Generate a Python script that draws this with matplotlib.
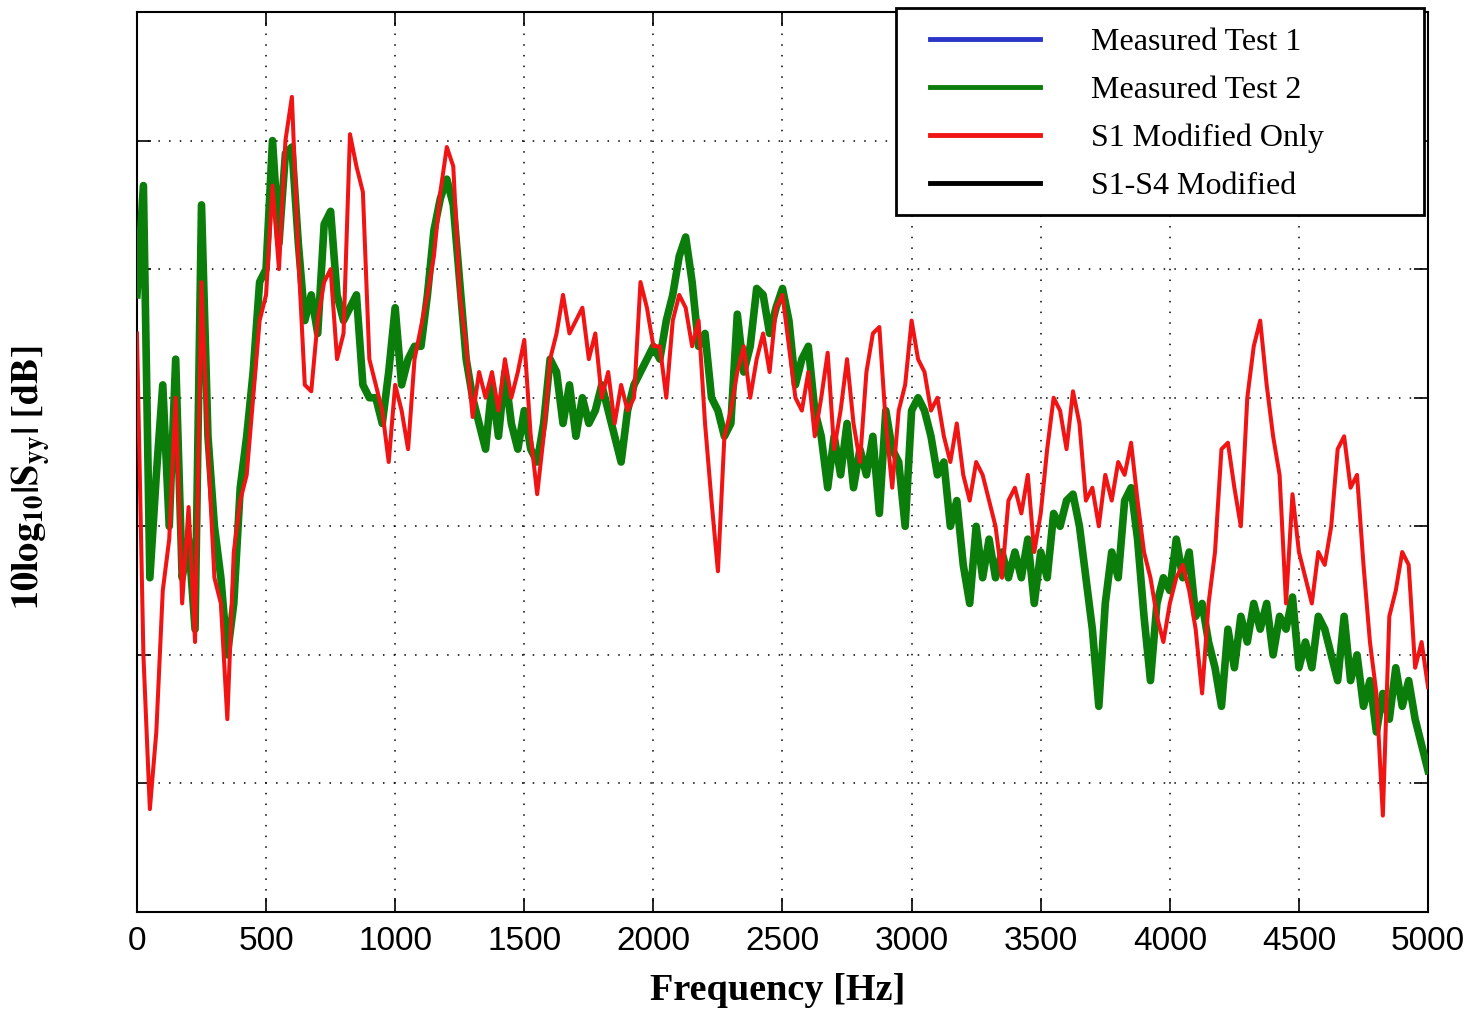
import numpy as np
import matplotlib
matplotlib.use("Agg")
import matplotlib.pyplot as plt
from matplotlib.lines import Line2D
from matplotlib.patches import Rectangle

# Frequency grid [Hz], one sample every 25 Hz
freq = np.arange(0, 5001, 25)

# Measured Test 2 spectrum [dB]
test2_db = [
    -22, -13.5, -44, -36, -29, -40, -27, -44,
    -41, -48, -15, -33, -40, -44, -50, -46,
    -37, -33, -28, -21, -20, -10, -18, -11,
    -10.5, -18, -24, -22, -25, -16.5, -15.5, -22,
    -24, -23, -22, -29, -30, -30, -32, -28,
    -23, -29, -27, -26, -26, -22, -17, -14.5,
    -13, -15, -21, -27, -30, -32, -34, -29,
    -33, -28, -32, -34, -31, -34, -35, -32,
    -27, -28, -32, -29, -33, -30, -32, -31,
    -29, -31, -33, -35, -31, -29, -28, -27,
    -26, -27, -24, -22, -19, -17.5, -21, -26,
    -25, -30, -31, -33, -32, -23.5, -28, -26,
    -21.5, -22, -25, -23, -21.5, -24, -29, -27,
    -26, -31, -33, -37, -33, -36, -32, -37,
    -34, -36, -33, -39, -31, -34, -35, -40,
    -31, -30, -31, -33, -36, -35, -40, -38,
    -43, -46, -40, -44, -41, -44, -42, -44,
    -42, -44, -41, -46, -42, -44, -39, -40,
    -38, -37.5, -40, -44, -48, -54, -46, -42,
    -44, -38, -37, -41, -47, -52, -46, -44,
    -45, -41, -44, -42, -47, -46, -49, -51,
    -54, -48, -51, -47, -49, -46, -48, -46,
    -50, -47, -48, -45.5, -51, -49, -51, -47,
    -48, -50, -52, -47, -52, -50, -54, -52,
    -56, -53, -55, -51, -54, -52, -55, -57,
    -59,
]

# S1 modified only model [dB]
s1_db = [
    -25, -50, -62, -56, -45, -41, -30, -46,
    -38.5, -49, -21, -34, -44, -46, -55, -42,
    -38, -36, -30, -24, -22, -13.5, -20, -10,
    -6.6, -19, -29, -29.5, -24, -21, -20, -27,
    -25, -9.5, -12, -14, -27, -29, -31, -35,
    -29, -31, -34, -27, -24.5, -22, -19, -14,
    -10.5, -12, -22, -26, -31.5, -28, -30, -28,
    -31, -27, -30, -28, -25.5, -33, -37.5, -33,
    -27, -25, -22, -25, -24, -23, -27, -25,
    -30, -28, -32, -29, -31, -30, -21, -23,
    -26, -26, -30, -24, -22, -23, -26, -24,
    -32, -38, -43.5, -33, -31, -28, -26, -30,
    -27, -25, -28, -23, -22, -26, -30, -31,
    -28, -33, -30, -26.5, -34, -31, -27, -32,
    -35, -28, -25, -24.5, -32, -37, -31, -29,
    -24, -27, -28, -31, -30, -33, -35, -32,
    -36, -38, -35, -36, -38, -40, -44, -38,
    -37, -39, -36, -42, -39, -34, -30, -31,
    -34, -29.5, -32, -38, -37, -40, -36, -38,
    -35, -36, -33.5, -38, -42, -44, -47, -49,
    -46, -44, -43, -45, -48, -53, -46, -42,
    -34, -33.5, -37, -40, -30, -26, -24, -29,
    -33, -36, -46, -37.5, -42, -44, -46, -42,
    -43, -40, -34, -33, -37, -36, -43, -49,
    -53, -62.5, -47, -45, -42, -43, -51, -49,
    -52.5,
]

labels = ["Measured Test 1", "Measured Test 2", "S1 Modified Only", "S1-S4 Modified"]
colors = ["#2a35c8", "#0b7d0b", "#f01414", "#000000"]

plt.rcParams["mathtext.fontset"] = "stix"

fig = plt.figure(figsize=(14.71, 10.10), dpi=100)
ax = fig.add_axes([0.0931, 0.0970, 0.8777, 0.8911])

ax.plot(freq, test2_db, color=colors[1], lw=5.5, zorder=3)
ax.plot(freq, s1_db, color=colors[2], lw=2.9, zorder=4)

ax.set_xlim(0, 5000)
ax.set_ylim(-70, 0)
ax.set_xticks(np.arange(0, 5001, 500))
ax.set_yticks(np.arange(-60, -9, 10))
ax.set_yticklabels([])
for lab in ax.get_xticklabels():
    lab.set_fontfamily("Liberation Sans")
    lab.set_fontsize(24)

ax.tick_params(direction="in", length=10, width=1.2, top=True, right=True, pad=10)
ax.grid(True, color="black", linestyle=(0, (1, 6)), linewidth=1.1)
for s in ax.spines.values():
    s.set_linewidth(1.5)

ax.set_xlabel("Frequency [Hz]", fontfamily="Liberation Serif", fontweight="bold",
              fontsize=27.5, va="center")
ax.xaxis.set_label_coords(0.4964, -0.0867)
ax.set_ylabel(r"$\mathbf{10log_{10}|S_{yy}|\ [dB]}$", fontsize=27.5, va="center")
ax.yaxis.set_label_coords(-0.082, 0.483)

# legend box drawn as its own patch so the entries can sit inset
box = Rectangle((0.5879, 0.7744), 0.409, 0.23, transform=ax.transAxes,
                facecolor="white", edgecolor="black", lw=2, clip_on=False, zorder=9)
ax.add_patch(box)
handles = [Line2D([], [], color=c, lw=3.5) for c in colors]
leg = ax.legend(handles, labels, loc="upper left", bbox_to_anchor=(0.6143, 0.9822),
                borderaxespad=0, borderpad=0, frameon=False,
                prop={"family": "Liberation Serif", "size": 23},
                handlelength=3.45, handletextpad=1.6, labelspacing=0.58)
leg.set_zorder(10)

fig.savefig("out.png", dpi=100)
